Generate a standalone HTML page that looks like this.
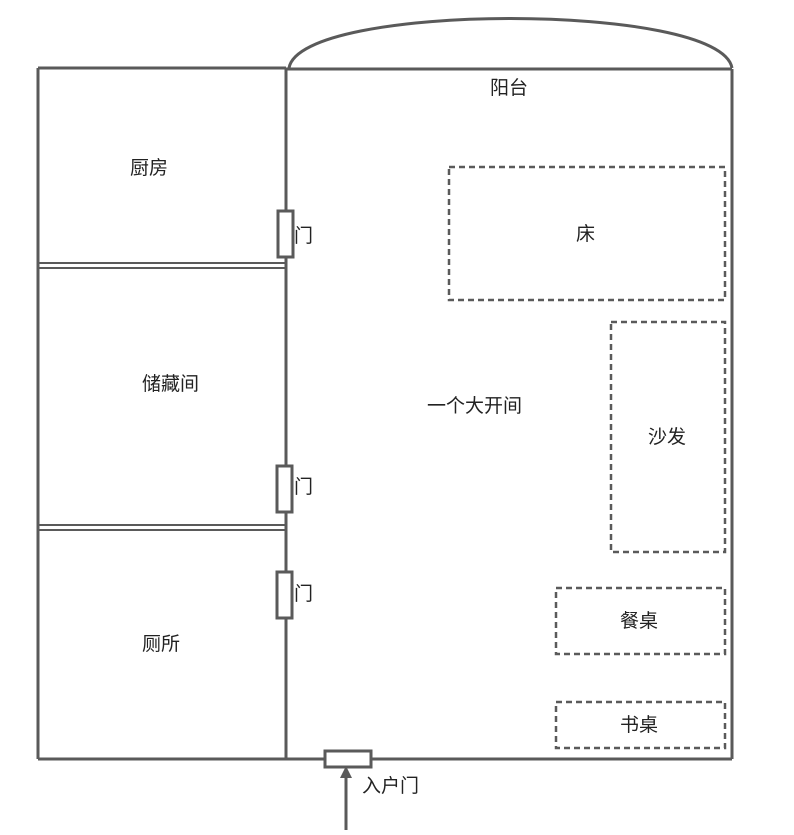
<!DOCTYPE html>
<html><head><meta charset="utf-8"><style>
body{margin:0;background:#fff}
text{font-family:"Liberation Sans","Noto Sans CJK SC",sans-serif;font-size:19px;fill:#222}
</style></head><body>
<svg width="794" height="830" xmlns="http://www.w3.org/2000/svg">
<g stroke="#5a5a5a" stroke-width="3" fill="none">
<path d="M289 68 C300 2, 721 2, 732 68"/>
<line x1="38" y1="68" x2="38" y2="759"/>
<line x1="38" y1="68" x2="286" y2="68"/>
<line x1="286" y1="69" x2="732" y2="69"/>
<line x1="286" y1="68" x2="286" y2="759"/>
<line x1="732" y1="69" x2="732" y2="759"/>
<line x1="38" y1="759" x2="732" y2="759"/>
</g>
<g stroke="#5a5a5a" stroke-width="2" fill="none">
<line x1="38" y1="263" x2="286" y2="263"/>
<line x1="38" y1="268" x2="286" y2="268"/>
<line x1="38" y1="525" x2="286" y2="525"/>
<line x1="38" y1="530" x2="286" y2="530"/>
</g>
<g stroke="#5a5a5a" stroke-width="3" fill="#fff">
<rect x="278" y="211" width="15" height="46"/>
<rect x="277" y="466" width="15" height="46"/>
<rect x="277" y="572" width="15" height="46"/>
<rect x="325" y="751" width="46" height="16"/>
</g>
<g stroke="#5a5a5a" stroke-width="2.5" fill="none" stroke-dasharray="6,4">
<rect x="449" y="167" width="276" height="133"/>
<rect x="611" y="322" width="114" height="230"/>
<rect x="556" y="588" width="169" height="66"/>
<rect x="556" y="702" width="169" height="46"/>
</g>
<line x1="346" y1="830" x2="346" y2="775" stroke="#5a5a5a" stroke-width="3"/>
<polygon points="346,766 340,778 352,778" fill="#5a5a5a"/>
<text x="490" y="94">阳台</text>
<text x="130" y="174">厨房</text>
<text x="142" y="390">储藏间</text>
<text x="142" y="650">厕所</text>
<text x="427" y="412">一个大开间</text>
<text x="576" y="240">床</text>
<text x="648" y="443">沙发</text>
<text x="620" y="627">餐桌</text>
<text x="620" y="731">书桌</text>
<text x="294" y="242">门</text>
<text x="294" y="493">门</text>
<text x="294" y="600">门</text>
<text x="362" y="792">入户门</text>
</svg>
</body></html>
